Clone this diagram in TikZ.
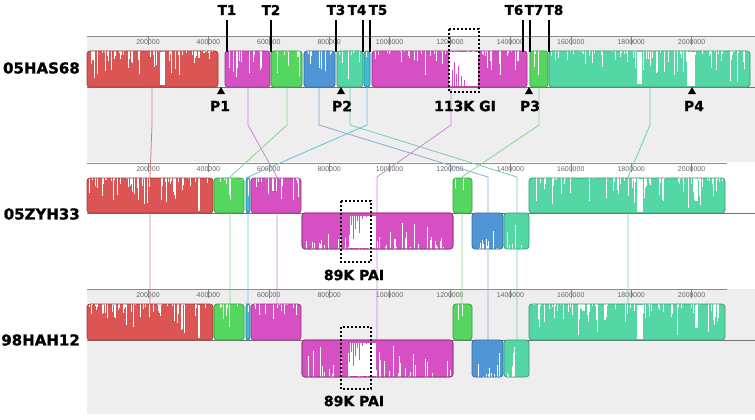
\documentclass[tikz,border=0pt]{standalone}
\usepackage{fontspec}
\setmainfont{DejaVu Sans}
\newfontfamily\heavyfont[FakeBold=1.2]{DejaVu Sans}
\newfontfamily\tickfont{Liberation Sans}
\definecolor{panelgray}{RGB}{238,238,238}
\definecolor{bred}{RGB}{220,85,85}
\definecolor{bmag}{RGB}{215,80,195}
\definecolor{bgrn}{RGB}{85,215,95}
\definecolor{bblu}{RGB}{80,150,215}
\definecolor{bteal}{RGB}{85,215,165}
\definecolor{bcyan}{RGB}{60,190,215}
\definecolor{lred}{RGB}{205,130,130}
\definecolor{lmag}{RGB}{200,140,210}
\definecolor{lgrn}{RGB}{140,210,140}
\definecolor{lblu}{RGB}{135,170,205}
\definecolor{lteal}{RGB}{115,205,175}
\definecolor{lcyan}{RGB}{100,195,210}
\newcommand\mvblock[7]{%
  \fill[#5] (#1,#3) [rounded corners=3pt] rectangle (#2,#4);
  \begin{scope}
    \clip[rounded corners=3pt] (#1,#3) rectangle (#2,#4);
    \pgfmathsetmacro\ys{#7>0 ? #3 : #4}
    \foreach \k in {1,...,#6}{
      \pgfmathsetmacro\xx{#1+2+rnd*(#2-#1-4)}
      \pgfmathsetmacro\ll{(#4-#3)*rnd*rnd*0.9*#7}
      \draw[white,line width=0.7pt] (\xx,\ys) -- (\xx,\ys+\ll);
    }
  \end{scope}
  \draw[#5!70!black,line width=0.7pt,rounded corners=3pt] (#1,#3) rectangle (#2,#4);
}
\begin{document}
\begin{tikzpicture}[x=1pt,y=-1pt,
  glab/.style={font=\heavyfont\bfseries\fontsize{15}{15}\selectfont,inner sep=0pt},
  tlab/.style={font=\heavyfont\bfseries\fontsize{13.5}{13.5}\selectfont,inner sep=0pt},
  plab/.style={font=\heavyfont\bfseries\fontsize{14}{14}\selectfont,inner sep=0pt},
  ticklab/.style={font=\tickfont\fontsize{7}{7}\selectfont,text=black!60,inner sep=0pt},
  scaleline/.style={draw=black!45,line width=0.8pt},
  baseline/.style={draw=black!55,line width=0.8pt},
  conn/.style={line width=0.8pt},
  tline/.style={line width=2pt},
  dbox/.style={line width=2pt,dash pattern=on 2pt off 2pt},
  ptri/.style={fill=black}]
\useasboundingbox (0,0) rectangle (755,420);
\pgfmathsetseed{17}
% panels
\fill[panelgray] (87,36) rectangle (755,162);
\fill[panelgray] (87,289) rectangle (755,414);
\draw[scaleline] (87,36) -- (755,36);
\draw[scaleline] (87,163) -- (727,163);
\draw[scaleline] (87,289) -- (727,289);
\foreach \n/\t in {1/200000,2/400000,3/600000,4/800000,5/1000000,6/1200000,7/1400000,8/1600000,9/1800000,10/2000000}{
  \pgfmathsetmacro\tx{87.6+60.4*\n}
  \node[ticklab] (tka\n) at (\tx,42) {\t};
  \node[ticklab] (tkb\n) at (\tx,169) {\t};
  \node[ticklab] (tkc\n) at (\tx,295) {\t};
  \draw[black!50,line width=0.5pt] (\tx,37) -- (\tx,45);
  \draw[black!50,line width=0.5pt] (\tx,164) -- (\tx,172);
  \draw[black!50,line width=0.5pt] (\tx,290) -- (\tx,298);
}
\draw[baseline] (87,87) -- (755,87);
\draw[baseline] (87,213) -- (755,213);
\draw[baseline] (87,340) -- (755,340);
% connectors
\foreach \xa/\xb/\ye/\col [count=\i] in {152/150/304/lred,248/277/304/lmag,287/230/304/lgrn,319/488/340/lblu,350/517/340/lteal,367/248/304/lcyan,451/377/340/lmag,539/462/304/lgrn,650/628/304/lteal}{
  \coordinate (ca\i) at (\xa,70);
  \coordinate (cb\i) at (\xa,125);
  \coordinate (cc\i) at (\xb,177);
  \coordinate (cd\i) at (\xb,\ye);
  \draw[conn,\col] (ca\i) -- (cb\i) -- (cc\i) -- (cd\i);
}
% genome 1 blocks
\mvblock{87}{218}{51}{87}{bred}{60}{1}
\fill[white] (160,52) rectangle (165,85);
\mvblock{225}{270}{51}{87}{bmag}{16}{1}
\mvblock{271}{302}{51}{87}{bgrn}{9}{1}
\mvblock{304}{335}{51}{87}{bblu}{12}{1}
\mvblock{337}{363}{51}{87}{bteal}{8}{1}
\mvblock{364}{370}{51}{87}{bcyan}{1}{1}
\mvblock{372}{527}{51}{87}{bmag}{50}{1}
\fill[white] (449,52) rectangle (478,86);
\foreach \a/\b in {452/70,454/62,456/74,458/66,461/76,464/80}{\draw[bmag,line width=0.8pt] (\a,86) -- (\a,\b);}
\mvblock{530}{548}{51}{87}{bgrn}{4}{1}
\mvblock{549}{750}{51}{87}{bteal}{80}{1}
\fill[white] (637,52) rectangle (642,84);
\fill[white] (687,52) rectangle (695,86);
% genome 2 and 3 blocks
\foreach \yt/\ym/\yb [count=\g from 2] in {178/213/249,304/340/377}{
  \mvblock{87}{213}{\yt}{\ym}{bred}{60}{1}
  \fill[white] (198,\yt+1) rectangle (200,\ym-2);
  \mvblock{214}{244}{\yt}{\ym}{bgrn}{9}{1}
  \mvblock{246}{250}{\yt}{\ym}{bcyan}{1}{1}
  \mvblock{251}{301}{\yt}{\ym}{bmag}{18}{1}
  \mvblock{453}{472}{\yt}{\ym}{bgrn}{4}{1}
  \mvblock{529}{725}{\yt}{\ym}{bteal}{80}{1}
  \fill[white] (637,\yt+1) rectangle (643,\ym-1);
  \fill[white] (695,\yt+1) rectangle (698,\ym-12);
  \mvblock{302}{453}{\ym}{\yb}{bmag}{50}{-1}
  \fill[white] (349,\ym+3) rectangle (376,\yb-1);
  \foreach \a/\b in {349/22,351/12,353/26,355/16,357/8,359/20,362/6,366/4}{\draw[bmag,line width=0.8pt] (\a,\ym+1) -- (\a,\ym+\b);}
  \draw[bmag!70!black,line width=0.7pt,rounded corners=3pt] (302,\ym) rectangle (453,\yb);
  \mvblock{472}{503}{\ym}{\yb}{bblu}{12}{-1}
  \mvblock{504}{529}{\ym}{\yb}{bteal}{8}{-1}
}
% dashed boxes
\draw[dbox] (449,29) rectangle (479,92);
\draw[dbox] (341,201) rectangle (371,262);
\draw[dbox] (341,327) rectangle (371,389);
% T lines
\foreach \x [count=\i] in {227,271,336,363,370,523,530,549}{
  \coordinate (tt\i) at (\x,20);
  \coordinate (tb\i) at (\x,52);
  \draw[tline] (tt\i) -- (tb\i);
}
\foreach \x/\t in {227/T1,271/T2,336/T3,357/T4,378/T5,514/T6,534/T7,554/T8}{
  \node[tlab] (lab\t) at (\x,10) {\t};
}
% P markers
\foreach \x/\lx/\t in {221/220/P1,341/342/P2,529/530/P3,692/694/P4}{
  \fill[ptri] (\x,87) -- (\x-4,94) -- (\x+4,94) -- cycle;
  \node[plab] (lab\t) at (\lx,106) {\t};
}
\node[plab] (gi) at (465,106) {113K GI};
\node[plab] (pai1) at (354,275) {89K PAI};
\node[plab] (pai2) at (354,401) {89K PAI};
% genome labels
\node[glab,anchor=east] (g1) at (80,68) {05HAS68};
\node[glab,anchor=east] (g2) at (80,214) {05ZYH33};
\node[glab,anchor=east] (g3) at (80,340) {98HAH12};
\end{tikzpicture}
\end{document}
